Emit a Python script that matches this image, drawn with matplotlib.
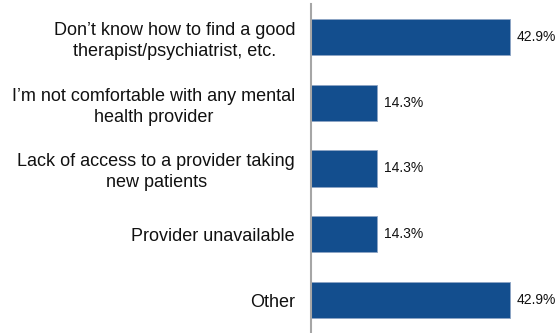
import matplotlib
matplotlib.use("Agg")
import matplotlib.pyplot as plt

categories = [
    "Don\u2019t know how to find a good\ntherapist/psychiatrist, etc.",
    "I\u2019m not comfortable with any mental\nhealth provider",
    "Lack of access to a provider taking\nnew patients",
    "Provider unavailable",
    "Other",
]
values = [42.9, 14.3, 14.3, 14.3, 42.9]

plt.rcParams['font.family'] = ['Liberation Sans', 'DejaVu Sans']

fig = plt.figure(figsize=(5.56, 3.33), dpi=100)
ax = fig.add_axes([311/556, 0.0, 1 - 311/556, 1 - 4/333])

y = list(range(len(categories)))
bars = ax.barh(y, values, height=0.55, color='#134E8E', edgecolor='#8DA4C4', linewidth=0.6)
ax.set_ylim(len(categories) - 0.5, -0.5)
ax.set_xlim(0, 52.8)
ax.set_yticks(y)
ax.set_yticklabels(categories, fontsize=13, multialignment='center', color='#111111', linespacing=1.3)
ax.tick_params(axis='y', length=0, pad=11.5)
ax.set_xticks([])
for s in ['top', 'right', 'bottom']:
    ax.spines[s].set_visible(False)
ax.spines['left'].set_color('#A6A6A6')
ax.spines['left'].set_linewidth(1.5)
ax.bar_label(bars, labels=[f"{v:.1f}%" for v in values], padding=4.5, fontsize=10, color='#111111')

fig.savefig("out.png", dpi=100)
